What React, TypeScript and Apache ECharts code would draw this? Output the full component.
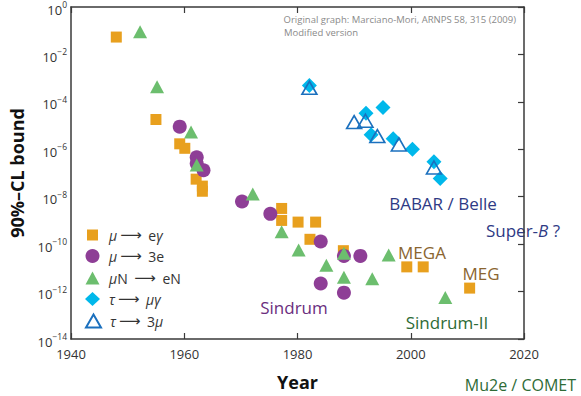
import React, { useEffect, useRef } from "react";
import * as echarts from "echarts";

// ---- data (year, 90% CL upper bound) ----
const muEgYears = [1948, 1955, 1959.2, 1960.1, 1962.1, 1963.2, 1963.2, 1977.2, 1977.2, 1980.1, 1983.2, 1982.2, 1988.1, 1999.3, 2002.2, 2010.4];
const muEgValues = [5.4e-2, 1.8e-5, 1.7e-6, 1.1e-6, 5.5e-8, 2.8e-8, 1.7e-8, 3.2e-9, 1.0e-9, 8.5e-10, 8.5e-10, 1.6e-10, 5.3e-11, 1.1e-11, 1.1e-11, 1.4e-12];

const mu3eYears = [1959.2, 1962.2, 1962.2, 1963.4, 1970.2, 1975.2, 1984.1, 1988.2, 1991.1, 1984.1, 1988.2];
const mu3eValues = [9e-6, 4.6e-7, 2.5e-7, 1.3e-7, 6.3e-9, 1.9e-9, 1.3e-10, 3.2e-11, 3.2e-11, 2.2e-12, 9e-13];

const muNeNYears = [1952.2, 1955.2, 1961.2, 1962.2, 1972.1, 1977.2, 1980.2, 1985.1, 1988.2, 1988.2, 1993.2, 1996.1, 2006.1];
const muNeNValues = [9e-2, 4.3e-4, 5.3e-6, 2.2e-7, 1.3e-8, 3.3e-10, 5.7e-11, 1.3e-11, 4.1e-11, 4e-12, 3.5e-12, 3.5e-11, 5.6e-13];

const tauMugYears = [1982.1, 1992.1, 1995.1, 1993, 1996.9, 2000.3, 2004.1, 2005.2];
const tauMugValues = [4.9e-4, 3.3e-5, 5.8e-5, 4.1e-6, 2.8e-6, 1e-6, 3e-7, 5.8e-8];

const tau3muYears = [1982.1, 1990, 1992, 1994.1, 1997.9, 2004.1];
const tau3muValues = [3.9e-4, 1.4e-5, 1.6e-5, 3.6e-6, 1.6e-6, 1.7e-7];

const xTicks = [1940, 1960, 1980, 2000, 2020];
const seriesNames = ["mueg", "mu3e", "muNeN", "taumug", "tau3mu"];

const FONT = "'Open Sans', 'Noto Sans', sans-serif";
const ORANGE = "#E8A01E";
const PURPLE = "#8E3E96";
const GREEN = "#6CBE6E";
const CYAN = "#00B8EB";
const BLUE = "#1B70BE";
const AXIS = "#3a3a3a";

const pairs = (xs: number[], ys: number[]) => xs.map((x, i) => [x, ys[i]]);

export default function App() {
  const ref = useRef<HTMLDivElement>(null);
  useEffect(() => {
    if (!ref.current) return;
    const chart = echarts.init(ref.current, undefined, { renderer: "svg" });

    const richLegend = {
      t: { fontFamily: FONT, fontSize: 14, color: "#333" },
      i: { fontFamily: FONT, fontSize: 14, color: "#333", fontStyle: "italic" },
      a: { fontFamily: "DejaVu Sans", fontSize: 15, color: "#333", padding: [0, 3, 0, 3] },
    };
    const legendText: Record<string, string> = {
      mueg: "{i|μ}{a|⟶}{t| e}{i|γ}",
      mu3e: "{i|μ}{a|⟶}{t| 3e}",
      muNeN: "{i|μ}{t|N }{a|⟶}{t| eN}",
      taumug: "{i|τ}{a|⟶}{t| }{i|μγ}",
      tau3mu: "{i|τ}{a|⟶}{t| 3}{i|μ}",
    };
    const legendCfg = [
      { name: "mueg", cy: 235, w: 11, h: 11 },
      { name: "mu3e", cy: 256, w: 14, h: 14 },
      { name: "muNeN", cy: 278, w: 14, h: 13 },
      { name: "taumug", cy: 299, w: 15, h: 14 },
      { name: "tau3mu", cy: 321, w: 15, h: 13 },
    ];
    const iconCx = 92.5;
    const textStart = 109;
    const legends = legendCfg.map((l) => {
      const left = iconCx - l.w / 2;
      return {
        data: [l.name],
        orient: "horizontal",
        left,
        top: l.cy - 10,
        padding: 0,
        itemWidth: l.w,
        itemHeight: l.h,
        itemGap: 0,
        selectedMode: false,
        formatter: (n: string) => legendText[n],
        textStyle: {
          fontFamily: FONT,
          fontSize: 14,
          color: "#333",
          lineHeight: 20,
          padding: [0, 0, 0, textStart - (left + l.w + 5)],
          rich: richLegend,
        },
      };
    });

    const yLabel = (v: number) => {
      const e = Math.round(Math.log10(v));
      const s = e === 0 ? "0" : "−" + Math.abs(e);
      return `{b|10}{s|${s}}`;
    };

    const option: any = {
      animation: false,
      backgroundColor: "#fff",
      textStyle: { fontFamily: FONT },
      grid: { left: 65, right: 57, top: 6, bottom: 52, containLabel: false },
      legend: legends,
      xAxis: [
        {
          type: "value",
          min: 1940,
          max: 2020,
          interval: 20,
          name: "Year",
          nameLocation: "middle",
          nameGap: 34,
          nameTextStyle: { fontFamily: FONT, fontSize: 18, fontWeight: "bold", color: "#111" },
          axisLine: { show: true, lineStyle: { color: AXIS, width: 1.5 } },
          axisTick: { show: true, inside: true, length: 6, lineStyle: { color: AXIS, width: 1.2 } },
          axisLabel: { fontFamily: FONT, fontSize: 13, color: "#333", margin: 8, formatter: (v: number) => (xTicks.includes(v) ? String(v) : "") },
          splitLine: { show: false },
        },
        {
          type: "value",
          position: "top",
          min: 1940,
          max: 2020,
          interval: 20,
          axisLine: { show: true, lineStyle: { color: AXIS, width: 1.5 } },
          axisTick: { show: true, inside: true, length: 6, lineStyle: { color: AXIS, width: 1.2 } },
          axisLabel: { show: false },
          splitLine: { show: false },
        },
      ],
      yAxis: [
        {
          type: "log",
          logBase: 10,
          min: 1e-14,
          max: 1,
          interval: 2,
          name: "90%–CL bound",
          nameLocation: "middle",
          nameRotate: 90,
          nameGap: 45,
          nameTextStyle: { fontFamily: FONT, fontSize: 18, fontWeight: "bold", color: "#111" },
          axisLine: { show: true, lineStyle: { color: AXIS, width: 1.5 } },
          axisTick: { show: false },
          axisLabel: {
            formatter: yLabel,
            margin: 4,
            rich: {
              b: { fontFamily: FONT, fontSize: 13, color: "#333", lineHeight: 18, verticalAlign: "bottom" },
              s: { fontFamily: FONT, fontSize: 8.5, color: "#333", lineHeight: 18, verticalAlign: "bottom", padding: [0, 0, 7, 0] },
            },
          },
          splitLine: { show: false },
        },
        {
          type: "log",
          logBase: 10,
          position: "right",
          min: 1e-14,
          max: 1,
          interval: 2,
          axisLine: { show: true, lineStyle: { color: AXIS, width: 1.5 } },
          axisTick: { show: true, inside: true, length: 6, lineStyle: { color: AXIS, width: 1.2 } },
          axisLabel: { show: false },
          splitLine: { show: false },
        },
      ],
      series: [
        {
          name: seriesNames[0],
          type: "scatter",
          symbol: "rect",
          symbolSize: 11,
          itemStyle: { color: ORANGE, opacity: 1 },
          data: pairs(muEgYears, muEgValues),
        },
        {
          name: seriesNames[1],
          type: "scatter",
          symbol: "circle",
          symbolSize: 14,
          itemStyle: { color: PURPLE, opacity: 1 },
          data: pairs(mu3eYears, mu3eValues),
        },
        {
          name: seriesNames[2],
          type: "scatter",
          symbol: "triangle",
          symbolSize: [14, 13],
          itemStyle: { color: GREEN, opacity: 1 },
          data: pairs(muNeNYears, muNeNValues),
        },
        {
          name: seriesNames[3],
          type: "scatter",
          symbol: "diamond",
          symbolSize: [15, 15],
          itemStyle: { color: CYAN, opacity: 1 },
          data: pairs(tauMugYears, tauMugValues),
        },
        {
          name: seriesNames[4],
          type: "scatter",
          symbol: "triangle",
          symbolSize: [15, 13],
          itemStyle: { color: "rgba(255,255,255,0)", borderColor: BLUE, borderWidth: 1.6, opacity: 1 },
          data: pairs(tau3muYears, tau3muValues),
        },
      ],
      graphic: [
        {
          type: "text",
          x: 516,
          y: 19,
          style: { text: "Original graph: Marciano-Mori, ARNPS 58, 315 (2009)", fill: "#8a8a8a", fontFamily: FONT, fontSize: 9.5, align: "right", verticalAlign: "middle" },
        },
        {
          type: "text",
          x: 284,
          y: 32,
          style: { text: "Modified version", fill: "#8a8a8a", fontFamily: FONT, fontSize: 9.5, align: "left", verticalAlign: "middle" },
        },
        {
          type: "text",
          x: 443,
          y: 203,
          style: { text: "BABAR / Belle", fill: "#2E3A85", fontFamily: FONT, fontSize: 17, align: "center", verticalAlign: "middle" },
        },
        {
          type: "text",
          x: 523,
          y: 230,
          style: {
            text: "{t|Super-}{i|B}{t| ?}",
            fontFamily: FONT,
            fontSize: 17,
            align: "center",
            verticalAlign: "middle",
            rich: {
              t: { fontFamily: FONT, fontSize: 17, fill: "#2E3A85", color: "#2E3A85" },
              i: { fontFamily: FONT, fontSize: 17, fill: "#2E3A85", color: "#2E3A85", fontStyle: "italic" },
            },
          },
        },
        {
          type: "text",
          x: 422,
          y: 252,
          style: { text: "MEGA", fill: "#8A6530", fontFamily: FONT, fontSize: 17, align: "center", verticalAlign: "middle" },
        },
        {
          type: "text",
          x: 481,
          y: 273,
          style: { text: "MEG", fill: "#8A6530", fontFamily: FONT, fontSize: 17, align: "center", verticalAlign: "middle" },
        },
        {
          type: "text",
          x: 294,
          y: 307,
          style: { text: "Sindrum", fill: "#6B2E7E", fontFamily: FONT, fontSize: 17, align: "center", verticalAlign: "middle" },
        },
        {
          type: "text",
          x: 447,
          y: 322,
          style: { text: "Sindrum-II", fill: "#2E6B36", fontFamily: FONT, fontSize: 17, align: "center", verticalAlign: "middle" },
        },
        {
          type: "text",
          x: 576,
          y: 385,
          style: { text: "Mu2e / COMET", fill: "#2E6B36", fontFamily: FONT, fontSize: 16, align: "right", verticalAlign: "middle" },
        },
      ],
    };
    chart.setOption(option);
    return () => chart.dispose();
  }, []);

  return <div ref={ref} style={{ position: "fixed", left: 0, top: 0, width: 581, height: 396 }} />;
}
